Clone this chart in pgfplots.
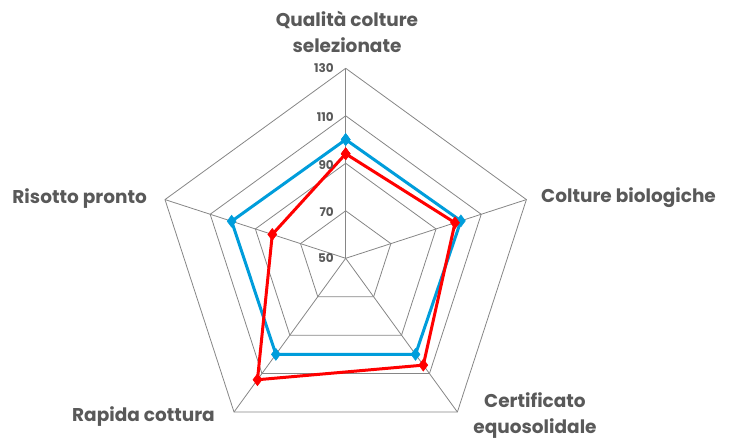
\documentclass[border=0pt]{standalone}
\usepackage{fontspec}
\setmainfont{Poppins}
\usepackage{pgfplots}
\pgfplotsset{compat=1.18}
\usepgfplotslibrary{polar}
\definecolor{serieblu}{HTML}{009DDB}
\definecolor{serierossa}{HTML}{FF0000}
\definecolor{griglia}{HTML}{868686}
\definecolor{testo}{HTML}{595959}
\begin{document}
\begin{tikzpicture}[x=1pt,y=1pt]
\useasboundingbox (0,0) rectangle (729,-441);
\begin{polaraxis}[
  at={(345.7pt,-258.3pt)}, anchor=center,
  scale only axis, width=380pt, height=380pt,
  hide axis,
  xmin=0, xmax=360, ymin=0, ymax=80,
  y filter/.expression={y-50},
  clip=false,
]
% anelli della griglia
\addplot[griglia, line width=0.8pt, mark=none] coordinates {(90,70) (18,70) (306,70) (234,70) (162,70) (90,70)};
\addplot[griglia, line width=0.8pt, mark=none] coordinates {(90,90) (18,90) (306,90) (234,90) (162,90) (90,90)};
\addplot[griglia, line width=0.8pt, mark=none] coordinates {(90,110) (18,110) (306,110) (234,110) (162,110) (90,110)};
\addplot[griglia, line width=0.8pt, mark=none] coordinates {(90,130) (18,130) (306,130) (234,130) (162,130) (90,130)};
% raggi
\addplot[griglia, line width=0.8pt, mark=none] coordinates {(90,50) (90,130)};
\addplot[griglia, line width=0.8pt, mark=none] coordinates {(18,50) (18,130)};
\addplot[griglia, line width=0.8pt, mark=none] coordinates {(306,50) (306,130)};
\addplot[griglia, line width=0.8pt, mark=none] coordinates {(234,50) (234,130)};
\addplot[griglia, line width=0.8pt, mark=none] coordinates {(162,50) (162,130)};
% serie
\addplot[serieblu, line width=3pt, mark=diamond*, mark size=6pt, mark options={solid, line width=0.5pt}]
  coordinates {(90,100) (18,101) (306,100) (234,100) (162,100.5) (90,100)};
\addplot[serierossa, line width=3pt, mark=diamond*, mark size=6pt, mark options={solid, line width=0.5pt}]
  coordinates {(90,94) (18,98.4) (306,105.6) (234,113.2) (162,82.5) (90,94)};
\end{polaraxis}
% etichette dei valori
\begin{scope}[every node/.style={font=\fontsize{12}{14}\selectfont\bfseries, text=testo, anchor=east, inner sep=0pt}]
\node at (334,-68.3) {130};
\node at (334,-117.3) {110};
\node at (334,-165) {90};
\node at (334,-212.3) {70};
\node at (334,-258.3) {50};
\end{scope}
% etichette delle categorie
\begin{scope}[every node/.style={font=\fontsize{18.5}{26}\selectfont\bfseries, text=testo, inner sep=0pt, align=center}]
\node at (347,-32) {Qualità colture\\selezionate};
\node[anchor=west] at (541,-198) {Colture biologiche};
\node at (535,-416) {Certificato\\equosolidale};
\node[anchor=east] at (215,-417) {Rapida cottura};
\node[anchor=east] at (147,-199) {Risotto pronto};
\end{scope}
\end{tikzpicture}
\end{document}
